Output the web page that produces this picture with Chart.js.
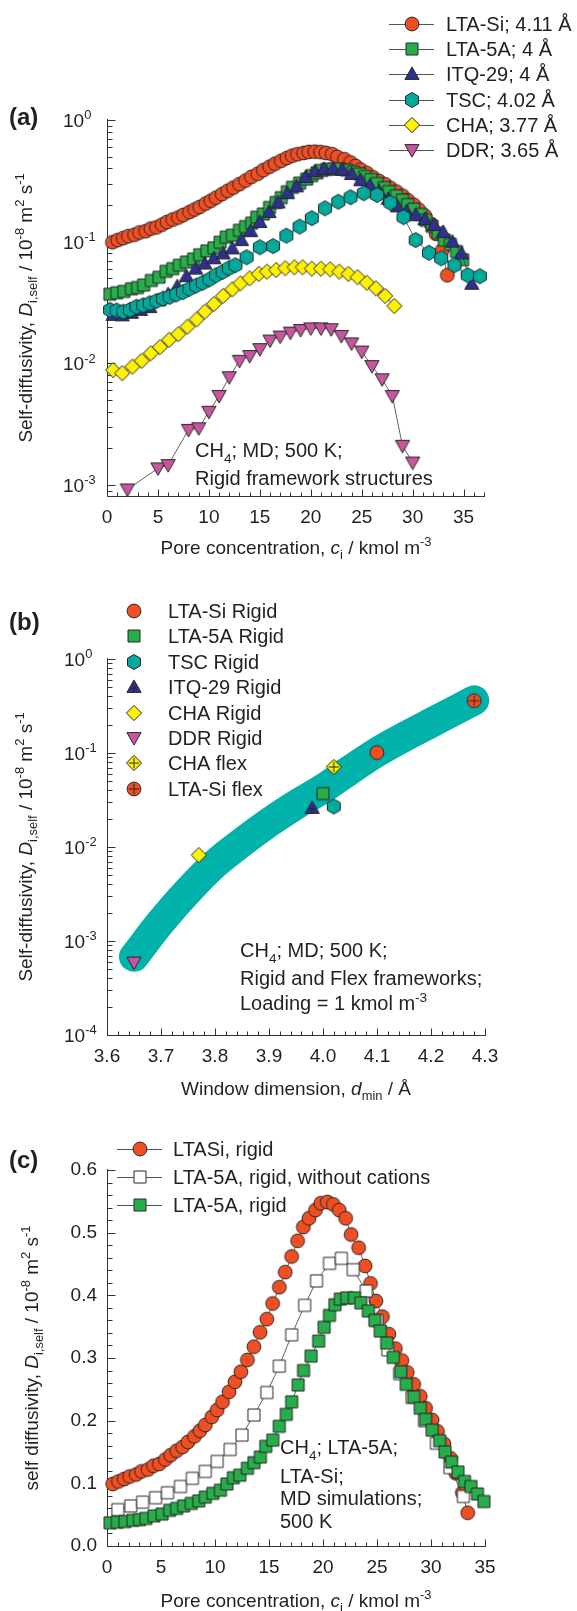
<!DOCTYPE html>
<html>
<head>
<meta charset="utf-8">
<script src="https://cdn.jsdelivr.net/npm/chart.js@4.4.1/dist/chart.umd.min.js"></script>
<style>
html, body { margin: 0; padding: 0; background: #fff; }
body { width: 577px; height: 1611px; position: relative; overflow: hidden; }
canvas { position: absolute; left: 0; }
</style>
</head>
<body>
<canvas id="chartA" width="577" height="565" style="top:0px"></canvas>
<canvas id="chartB" width="577" height="545" style="top:565px"></canvas>
<canvas id="chartC" width="577" height="501" style="top:1110px"></canvas>
<script>
/*jslint browser: true*/
/*global Chart*/

// ---- panel (a): self-diffusivity vs pore concentration (log) ----
var ltaSiC = [0.53, 1.06, 1.6, 2.1, 2.7, 3.2, 3.8, 4.3, 4.85, 5.4, 5.9, 6.45, 7.0, 7.5, 8.1, 8.6, 9.1, 9.7, 10.2, 10.7,
    11.3, 11.85, 12.4, 13.0, 13.6, 14.17, 14.8, 15.34, 15.96, 16.5, 17.1, 17.65, 18.18, 18.7, 19.3, 19.8, 20.4, 20.96, 21.5, 22.1,
    22.6, 23.3, 23.9, 24.4, 24.9, 25.5, 26.1, 26.7, 27.3, 27.8, 28.4, 29.0, 29.5, 30.1, 30.6, 31.2, 31.8, 32.3, 32.9, 33.4];
var ltaSiD = [0.099, 0.103, 0.107, 0.111, 0.114, 0.119, 0.122, 0.128, 0.131, 0.138, 0.145, 0.152, 0.158, 0.166, 0.175, 0.184, 0.193, 0.206, 0.217, 0.230,
    0.246, 0.262, 0.278, 0.297, 0.318, 0.341, 0.362, 0.387, 0.413, 0.437, 0.462, 0.487, 0.509, 0.523, 0.536, 0.547, 0.549, 0.545, 0.536, 0.523,
    0.497, 0.476, 0.447, 0.419, 0.391, 0.366, 0.338, 0.315, 0.296, 0.277, 0.258, 0.239, 0.220, 0.201, 0.183, 0.163, 0.140, 0.116, 0.085, 0.053];

var lta5aC = [0.28, 0.96, 1.66, 2.4, 3.0, 3.6, 4.35, 5.1, 5.8, 6.45, 7.1, 7.8, 8.5, 9.1, 9.8, 10.5, 11.1, 11.7, 12.3, 13.0,
    13.6, 14.2, 14.7, 15.35, 15.95, 16.6, 17.1, 17.7, 18.2, 18.9, 19.6, 20.1, 20.6, 21.1, 21.6, 22.2, 22.9, 23.5, 24.2, 24.8,
    25.3, 25.9, 26.5, 27.2, 27.7, 28.4, 29.0, 29.5, 30.1, 30.8, 31.3, 31.9, 32.5, 33.1, 33.7, 34.3, 34.9];
var lta5aD = [0.037, 0.038, 0.039, 0.041, 0.042, 0.044, 0.048, 0.051, 0.057, 0.060, 0.064, 0.068, 0.072, 0.078, 0.084, 0.089, 0.099, 0.109, 0.113, 0.124,
    0.133, 0.142, 0.159, 0.169, 0.191, 0.210, 0.230, 0.257, 0.280, 0.303, 0.327, 0.349, 0.368, 0.385, 0.394, 0.396, 0.396, 0.388, 0.375, 0.360,
    0.343, 0.324, 0.301, 0.278, 0.258, 0.238, 0.220, 0.202, 0.185, 0.168, 0.150, 0.134, 0.118, 0.103, 0.095, 0.083, 0.071];

var itqC = [0.6, 1.5, 2.4, 3.3, 4.2, 5.1, 6.0, 6.9, 7.8, 8.7, 9.6, 10.5, 11.4, 12.3, 13.2, 14.1, 15.0, 15.9, 16.8, 17.7,
    18.6, 19.5, 20.4, 21.3, 22.2, 23.1, 24.0, 24.9, 25.8, 26.7, 27.6, 28.5, 29.4, 30.3, 31.2, 32.1, 33.0, 33.9, 34.8, 35.8];
var itqD = [0.025, 0.0248, 0.026, 0.0275, 0.029, 0.033, 0.037, 0.043, 0.052, 0.060, 0.066, 0.073, 0.080, 0.088, 0.103, 0.122, 0.145, 0.175, 0.210, 0.250,
    0.285, 0.340, 0.380, 0.397, 0.400, 0.390, 0.360, 0.320, 0.290, 0.260, 0.225, 0.195, 0.178, 0.165, 0.153, 0.137, 0.120, 0.100, 0.080, 0.045];

var tscC = [0.3, 0.95, 1.6, 2.25, 2.9, 3.55, 4.2, 4.85, 5.5, 6.15, 6.8, 7.45, 8.1, 8.75, 9.4, 10.05, 10.7, 11.35, 11.95, 12.6,
    13.7, 15.0, 16.3, 17.6, 18.9, 20.1, 21.4, 22.7, 23.9, 25.2, 26.5, 27.8, 29.1, 30.3, 31.6, 32.8, 34.1, 35.4, 36.6];
var tscD = [0.0275, 0.0272, 0.0266, 0.0275, 0.0292, 0.0300, 0.0312, 0.0325, 0.0340, 0.0352, 0.0368, 0.0385, 0.0410, 0.0435, 0.0460, 0.0490, 0.0530, 0.0565, 0.0604, 0.0640,
    0.0744, 0.090, 0.092, 0.112, 0.133, 0.156, 0.188, 0.213, 0.232, 0.250, 0.242, 0.209, 0.159, 0.103, 0.081, 0.073, 0.064, 0.053, 0.052];

var chaC = [0.6, 1.5, 2.5, 3.4, 4.3, 5.2, 6.1, 7.0, 7.9, 8.8, 9.6, 10.5, 11.4, 12.3, 13.1, 14.0, 14.9, 15.7, 16.6, 17.5,
    18.4, 19.2, 20.1, 21.0, 21.9, 22.8, 23.7, 24.6, 25.5, 26.4, 27.3, 28.2];
var chaD = [0.0088, 0.0083, 0.0094, 0.0105, 0.0121, 0.0136, 0.0156, 0.0174, 0.0200, 0.0230, 0.0266, 0.0308, 0.0358, 0.0406, 0.0455, 0.0500, 0.0543, 0.0567, 0.0585, 0.0604,
    0.0616, 0.0616, 0.0600, 0.0600, 0.0593, 0.0567, 0.0543, 0.0510, 0.0460, 0.0414, 0.0358, 0.0296];

var ddrC = [2, 5, 6, 8, 9, 10, 11, 12, 13, 14, 15, 16, 17, 18, 19, 20, 21, 22, 23, 24, 25, 26, 27, 28, 29, 30];
var ddrD = [0.00092, 0.00137, 0.00146, 0.00284, 0.00293, 0.0040, 0.0054, 0.0077, 0.0105, 0.0115, 0.0131, 0.0154, 0.0166, 0.0179, 0.0188, 0.0194,
    0.0194, 0.0191, 0.0168, 0.0146, 0.0125, 0.0095, 0.0074, 0.0054, 0.0021, 0.00153];

var legendA = ["LTA-Si; 4.11 Å", "LTA-5A; 4 Å", "ITQ-29; 4 Å", "TSC; 4.02 Å", "CHA; 3.77 Å", "DDR; 3.65 Å"];
var xTicksA = [0, 5, 10, 15, 20, 25, 30, 35];
var yDecadesA = [0.001, 0.01, 0.1, 1];
var yExpA = ["-3", "-2", "-1", "0"];

// ---- panel (b): self-diffusivity vs window dimension ----
var winLabels = ["LTA-Si Rigid", "LTA-5A Rigid", "TSC Rigid", "ITQ-29 Rigid", "CHA Rigid", "DDR Rigid", "CHA flex", "LTA-Si flex"];
var winDmin = [4.10, 4.00, 4.02, 3.98, 3.77, 3.65, 4.02, 4.28];
var winDself = [0.101, 0.037, 0.027, 0.026, 0.0082, 0.00059, 0.071, 0.36];
var bandDmin = [3.65, 3.70, 3.75, 3.80, 3.85, 3.90, 3.95, 4.00, 4.05, 4.10, 4.15, 4.20, 4.28];
var bandDself = [0.00068, 0.0016, 0.0034, 0.0066, 0.0112, 0.0182, 0.0282, 0.0417, 0.066, 0.102, 0.148, 0.209, 0.363];
var xTicksB = [3.6, 3.7, 3.8, 3.9, 4.0, 4.1, 4.2, 4.3];
var yDecadesB = [0.0001, 0.001, 0.01, 0.1, 1];
var yExpB = ["-4", "-3", "-2", "-1", "0"];

// ---- panel (c): linear scale ----
var noCatC = [1.0, 2.2, 3.3, 4.5, 5.6, 6.8, 7.9, 9.1, 10.2, 11.4, 12.5, 13.6, 14.8, 15.95, 17.1, 18.3, 19.4, 20.6, 21.7, 22.8,
    24.0, 25.0, 26.0, 27.1, 28.25, 29.4, 30.5, 31.75, 33.0];
var noCatD = [0.058, 0.064, 0.070, 0.077, 0.085, 0.095, 0.108, 0.119, 0.135, 0.154, 0.177, 0.209, 0.245, 0.287, 0.337, 0.384, 0.423, 0.451, 0.459, 0.441,
    0.407, 0.360, 0.313, 0.275, 0.237, 0.200, 0.164, 0.125, 0.079];
var legendC = ["LTASi, rigid", "LTA-5A, rigid, without cations", "LTA-5A, rigid"];
var xTicksC = [0, 5, 10, 15, 20, 25, 30, 35];
var yTicksC = [0, 0.1, 0.2, 0.3, 0.4, 0.5, 0.6];

var FONT = "'Liberation Sans', Arial, Helvetica, sans-serif";
var INK = "#231f20";
var AXIS = "#333333";
var ORANGE = "#ef4f23", GREEN = "#27ae4a", NAVY = "#2e3192", TEAL = "#00a99d",
    YELLOW = "#fff200", MAGENTA = "#c8559f", BAND = "#00b2a9";

Chart.defaults.font.family = FONT;
Chart.defaults.color = INK;

function T(t, s) {
    return {t: t, s: s || ""};
}

function drawRich(ctx, parts, x, y, size, align, weight) {
    var w = 0;
    var runs = parts.map(function (p) {
        var small = (p.s === "sub" || p.s === "sup");
        var f = (p.s === "i" ? "italic " : "") + (weight || "") + " " + (small ? size * 0.68 : size) + "px " + FONT;
        ctx.font = f;
        var rw = ctx.measureText(p.t).width;
        w += rw;
        return {t: p.t, f: f, w: rw, dy: p.s === "sup" ? -size * 0.4 : (p.s === "sub" ? size * 0.28 : 0)};
    });
    var cx = align === "center" ? x - w / 2 : (align === "right" ? x - w : x);
    ctx.textAlign = "left";
    ctx.textBaseline = "alphabetic";
    runs.forEach(function (r) {
        ctx.font = r.f;
        ctx.fillText(r.t, cx, y + r.dy);
        cx += r.w;
    });
}

function marker(shape, fill, cross) {
    var c = document.createElement("canvas"), g, m = 10, k, a;
    c.width = 20;
    c.height = 20;
    g = c.getContext("2d");
    g.beginPath();
    if (shape === "circle") {
        g.arc(m, m, 6.9, 0, Math.PI * 2);
    } else if (shape === "square") {
        g.rect(m - 6, m - 6, 12, 12);
    } else if (shape === "triUp") {
        g.moveTo(m, m - 7.1); g.lineTo(m + 7.1, m + 5.4); g.lineTo(m - 7.1, m + 5.4); g.closePath();
    } else if (shape === "triDown") {
        g.moveTo(m, m + 7.1); g.lineTo(m + 7.1, m - 5.4); g.lineTo(m - 7.1, m - 5.4); g.closePath();
    } else if (shape === "diamond") {
        g.moveTo(m, m - 7.6); g.lineTo(m + 7.6, m); g.lineTo(m, m + 7.6); g.lineTo(m - 7.6, m); g.closePath();
    } else if (shape === "hex") {
        for (k = 0; k < 6; k += 1) {
            a = Math.PI / 3 * k - Math.PI / 2;
            g.lineTo(m + 7.5 * Math.cos(a), m + 7.5 * Math.sin(a));
        }
        g.closePath();
    }
    g.fillStyle = fill;
    g.fill();
    g.lineWidth = 1;
    g.strokeStyle = "#262626";
    g.stroke();
    if (cross) {
        var cy = shape === "triUp" ? m + 1 : m, h = shape === "triUp" ? 3.5 : 5.2;
        g.beginPath();
        g.moveTo(m - h, cy); g.lineTo(m + h, cy);
        g.moveTo(m, cy - h); g.lineTo(m, cy + h);
        g.lineWidth = 1;
        g.stroke();
    }
    return c;
}

var MK = {
    ltaSi: marker("circle", ORANGE),
    lta5a: marker("square", GREEN),
    itq: marker("triUp", NAVY),
    tsc: marker("hex", TEAL),
    cha: marker("diamond", YELLOW),
    ddr: marker("triDown", MAGENTA),
    noCat: marker("square", "#ffffff"),
    itqPlus: marker("triUp", NAVY, true),
    chaFlex: marker("diamond", YELLOW, true),
    ltaSiFlex: marker("circle", ORANGE, true)
};

function pts(xs, ys) {
    return xs.map(function (x, i) {
        return {x: x, y: ys[i]};
    });
}

function series(label, xs, ys, style, order) {
    return {
        label: label,
        data: pts(xs, ys),
        showLine: true,
        borderColor: "#3a3a3a",
        borderWidth: 0.8,
        pointStyle: style,
        pointRadius: 7,
        pointHoverRadius: 7,
        clip: false,
        order: order
    };
}

function logTicks(min, max) {
    var out = [], d, k, v;
    for (d = -5; d <= 0; d += 1) {
        for (k = 1; k <= 9; k += 1) {
            v = k * Math.pow(10, d);
            if (v >= min * 0.999 && v <= max * 1.001) {
                out.push([v, k === 1 ? 8 : 5]);
            }
        }
    }
    return out;
}

function linTicks(start, step, n, every) {
    var out = [], i;
    for (i = 0; i <= n; i += 1) {
        out.push([start + i * step, i % every === 0 ? 7 : 4]);
    }
    return out;
}

// axes, inward ticks, texts and legends
var decor = {
    id: "decor",
    beforeDatasetsDraw: function (chart, args, o) {
        var ctx = chart.ctx, ca = chart.chartArea, xs = chart.scales.x, ys = chart.scales.y;
        var L = Math.round(ca.left) + 0.5, B = Math.round(ca.bottom) + 0.5;
        ctx.save();
        ctx.strokeStyle = AXIS;
        ctx.lineWidth = 1;
        ctx.beginPath();
        ctx.moveTo(L, Math.round(ca.top) - 1);
        ctx.lineTo(L, B);
        ctx.lineTo(Math.round(ca.right) + 1, B);
        o.xTicks.forEach(function (t) {
            var px = Math.round(xs.getPixelForValue(t[0])) + 0.5;
            ctx.moveTo(px, B);
            ctx.lineTo(px, B - t[1]);
        });
        o.yTicks.forEach(function (t) {
            var py = Math.round(ys.getPixelForValue(t[0])) + 0.5;
            ctx.moveTo(L, py);
            ctx.lineTo(L + t[1], py);
        });
        ctx.stroke();
        ctx.restore();
    },
    afterDraw: function (chart, args, o) {
        var ctx = chart.ctx, off = o.offY, ys = chart.scales.y;
        ctx.save();
        ctx.fillStyle = INK;
        if (o.logLabels) {
            o.logLabels.vals.forEach(function (v, i) {
                var py = ys.getPixelForValue(v);
                drawRich(ctx, [T("10"), T(o.logLabels.exps[i], "sup")], o.logLabels.x, py + 7, 19, "left");
            });
        }
        o.texts.forEach(function (tx) {
            if (tx.rot) {
                ctx.save();
                ctx.translate(tx.x, tx.y - off);
                ctx.rotate(-Math.PI / 2);
                drawRich(ctx, tx.parts, 0, 0, tx.size, "center");
                ctx.restore();
            } else {
                drawRich(ctx, tx.parts, tx.x, tx.y - off, tx.size, tx.align || "left", tx.weight);
            }
        });
        if (o.legend) {
            var lg = o.legend;
            lg.items.forEach(function (it, i) {
                var y = lg.y0 + i * lg.dy - off;
                if (lg.line) {
                    ctx.strokeStyle = "#555";
                    ctx.lineWidth = 1;
                    ctx.beginPath();
                    ctx.moveTo(lg.x0, Math.round(y) + 0.5);
                    ctx.lineTo(lg.x1, Math.round(y) + 0.5);
                    ctx.stroke();
                }
                ctx.drawImage(it[1], Math.round(lg.mx - it[1].width / 2), Math.round(y - it[1].height / 2));
                ctx.fillStyle = INK;
                drawRich(ctx, [T(it[0])], lg.tx, y + 7, 20, "left");
            });
        }
        ctx.restore();
    }
};

function baseOptions(cfg) {
    return {
        responsive: false,
        animation: false,
        devicePixelRatio: 1,
        events: [],
        layout: {padding: {top: cfg.top, right: cfg.right, left: 0, bottom: 0}},
        scales: {
            x: {
                type: "linear",
                min: cfg.xmin,
                max: cfg.xmax,
                afterBuildTicks: function (s) {
                    s.ticks = cfg.xTickVals.map(function (v) { return {value: v}; });
                },
                afterFit: function (s) { s.height = cfg.xHeight; },
                grid: {display: false, drawTicks: false},
                border: {display: false},
                ticks: {
                    padding: 10,
                    color: INK,
                    font: {size: 19, family: FONT},
                    maxRotation: 0,
                    callback: cfg.xFmt
                }
            },
            y: cfg.y
        },
        plugins: {
            legend: {display: false},
            tooltip: {enabled: false},
            decor: cfg.decor
        }
    };
}

var yTitleParts = [T("Self-diffusivity, "), T("D", "i"), T("i,self", "sub"), T(" / 10"), T("-8", "sup"),
    T(" m"), T("2", "sup"), T(" s"), T("-1", "sup")];
var poreParts = [T("Pore concentration, "), T("c", "i"), T("i", "sub"), T(" / kmol m"), T("-3", "sup")];

// ---------------- chart (a) ----------------
new Chart(document.getElementById("chartA"), {
    type: "scatter",
    data: {
        datasets: [
            series(legendA[0], ltaSiC, ltaSiD, MK.ltaSi, 6),
            series(legendA[1], lta5aC, lta5aD, MK.lta5a, 5),
            series(legendA[2], itqC, itqD, MK.itq, 4),
            series(legendA[3], tscC, tscD, MK.tsc, 3),
            series(legendA[4], chaC, chaD, MK.cha, 2),
            series(legendA[5], ddrC, ddrD, MK.ddr, 1)
        ]
    },
    options: baseOptions({
        top: 120, right: 93, xmin: 0, xmax: 37, xHeight: 69,
        xTickVals: xTicksA,
        xFmt: function (v) { return String(v); },
        y: {
            type: "logarithmic", min: 0.000812, max: 1,
            afterFit: function (s) { s.width = 107; },
            grid: {display: false, drawTicks: false}, border: {display: false},
            ticks: {display: false}
        },
        decor: {
            offY: 0,
            xTicks: linTicks(0, 1, 37, 5),
            yTicks: logTicks(0.000812, 1),
            logLabels: {vals: yDecadesA, exps: yExpA, x: 63},
            texts: [
                {parts: [T("(a)")], x: 9, y: 125, size: 24, weight: "bold"},
                {parts: yTitleParts, x: 32, y: 308, size: 19, rot: true},
                {parts: poreParts, x: 296, y: 554, size: 19, align: "center"},
                {parts: [T("CH"), T("4", "sub"), T("; MD; 500 K;")], x: 195, y: 457, size: 20},
                {parts: [T("Rigid framework structures")], x: 195, y: 485, size: 20}
            ],
            legend: {
                line: true, x0: 389, x1: 434, mx: 411.5, tx: 446, y0: 24, dy: 25.2,
                items: [[legendA[0], MK.ltaSi], [legendA[1], MK.lta5a], [legendA[2], MK.itq],
                    [legendA[3], MK.tsc], [legendA[4], MK.cha], [legendA[5], MK.ddr]]
            }
        }
    }),
    plugins: [decor]
});

// ---------------- chart (b) ----------------
var winStyles = [MK.ltaSi, MK.lta5a, MK.tsc, MK.itqPlus, MK.cha, MK.ddr, MK.chaFlex, MK.ltaSiFlex];
new Chart(document.getElementById("chartB"), {
    type: "scatter",
    data: {
        datasets: [
            {
                label: "Rigid and flex",
                data: pts(winDmin, winDself),
                pointStyle: winStyles,
                pointRadius: 7,
                clip: false,
                order: 1
            },
            {
                label: "trend",
                data: pts(bandDmin, bandDself),
                showLine: true,
                borderColor: BAND,
                borderWidth: 30,
                borderCapStyle: "round",
                borderJoinStyle: "round",
                cubicInterpolationMode: "monotone",
                pointRadius: 0,
                clip: false,
                order: 2
            }
        ]
    },
    options: baseOptions({
        top: 94, right: 92, xmin: 3.6, xmax: 4.3, xHeight: 75,
        xTickVals: xTicksB,
        xFmt: function (v) { return v.toFixed(1); },
        y: {
            type: "logarithmic", min: 0.0001, max: 1,
            afterFit: function (s) { s.width = 107; },
            grid: {display: false, drawTicks: false}, border: {display: false},
            ticks: {display: false}
        },
        decor: {
            offY: 565,
            xTicks: linTicks(3.6, 0.02, 35, 5),
            yTicks: logTicks(0.0001, 1),
            logLabels: {vals: yDecadesB, exps: yExpB, x: 64},
            texts: [
                {parts: [T("(b)")], x: 9, y: 630, size: 24, weight: "bold"},
                {parts: yTitleParts, x: 32, y: 847, size: 19, rot: true},
                {parts: [T("Window dimension, "), T("d", "i"), T("min", "sub"), T(" / Å")], x: 296, y: 1095, size: 19, align: "center"},
                {parts: [T("CH"), T("4", "sub"), T("; MD; 500 K;")], x: 240, y: 957, size: 20},
                {parts: [T("Rigid and Flex frameworks;")], x: 240, y: 985, size: 20},
                {parts: [T("Loading = 1 kmol m"), T("-3", "sup")], x: 240, y: 1010, size: 20}
            ],
            legend: {
                line: false, mx: 134, tx: 168, y0: 611, dy: 25.4,
                items: winLabels.map(function (l, i) { return [l, winStyles[i]]; })
            }
        }
    }),
    plugins: [decor]
});

// ---------------- chart (c) ----------------
new Chart(document.getElementById("chartC"), {
    type: "scatter",
    data: {
        datasets: [
            series(legendC[0], ltaSiC, ltaSiD, MK.ltaSi, 3),
            series(legendC[1], noCatC, noCatD, MK.noCat, 2),
            series(legendC[2], lta5aC, lta5aD, MK.lta5a, 1)
        ]
    },
    options: baseOptions({
        top: 60, right: 92, xmin: 0, xmax: 35, xHeight: 65,
        xTickVals: xTicksC,
        xFmt: function (v) { return String(v); },
        y: {
            type: "linear", min: 0, max: 0.6,
            afterFit: function (s) { s.width = 107; },
            afterBuildTicks: function (s) {
                s.ticks = yTicksC.map(function (v) { return {value: v}; });
            },
            grid: {display: false, drawTicks: false}, border: {display: false},
            ticks: {
                padding: 10, color: INK, font: {size: 19, family: FONT},
                callback: function (v) { return v.toFixed(1); }
            }
        },
        decor: {
            offY: 1110,
            xTicks: linTicks(0, 1, 35, 5),
            yTicks: linTicks(0, 0.02, 30, 5).map(function (t) { return [t[0], t[1] === 7 ? 8 : 5]; }),
            texts: [
                {parts: [T("(c)")], x: 9, y: 1168, size: 24, weight: "bold"},
                {parts: [T("self diffusivity, "), T("D", "i"), T("i,self", "sub"), T(" / 10"), T("-8", "sup"),
                    T(" m"), T("2", "sup"), T(" s"), T("-1", "sup")], x: 38, y: 1358, size: 19, rot: true},
                {parts: poreParts, x: 296, y: 1607, size: 19, align: "center"},
                {parts: [T("CH"), T("4", "sub"), T("; LTA-5A;")], x: 280, y: 1454, size: 20},
                {parts: [T("LTA-Si;")], x: 280, y: 1483, size: 20},
                {parts: [T("MD simulations;")], x: 280, y: 1505, size: 20},
                {parts: [T("500 K")], x: 280, y: 1528, size: 20}
            ],
            legend: {
                line: true, x0: 117, x1: 162, mx: 139.5, tx: 173, y0: 1149, dy: 28,
                items: [[legendC[0], MK.ltaSi], [legendC[1], MK.noCat], [legendC[2], MK.lta5a]]
            }
        }
    }),
    plugins: [decor]
});
</script>
</body>
</html>
